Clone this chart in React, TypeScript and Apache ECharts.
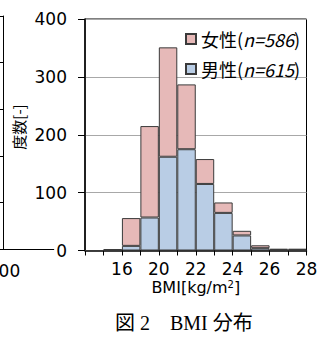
import React, { useEffect, useRef } from "react";
import * as echarts from "echarts";

// Histogram bins (lower bound of each 1-unit BMI bin)
const binStarts = ["16", "17", "18", "19", "20", "21", "22", "23", "24", "25", "26", "27"];
const maleCounts = [0, 1, 8, 57, 162, 175, 115, 65, 26, 4, 1, 1];
const femaleCounts = [0, 1, 48, 158, 189, 112, 43, 18, 8, 5, 2, 2];

const seriesNames = ["女性", "男性"];
const sampleSizes = [586, 615];

const yMin = 0;
const yMax = 400;
const yInterval = 100;

const xTickValues = [18, 20, 22, 24, 26, 28];
const xTickLabels = ["16", "20", "22", "24", "26", "28"];

const xAxisTitle = "BMI[kg/m{sup|2}]";
const yAxisTitle = "度数[-]";
const caption = "図 2　BMI 分布";
const leftChartEdgeLabel = "100";

const LABEL_FONT = "DejaVu Sans";
const CJK_FONT = "Noto Sans CJK JP";

export default function App() {
  const ref = useRef<HTMLDivElement>(null);

  useEffect(() => {
    if (!ref.current) return;
    const chart = echarts.init(ref.current, undefined, { renderer: "svg" });
    const option: any = {
      animation: false,
      backgroundColor: "#ffffff",
      title: {
        text: caption,
        left: 110,
        top: 308,
        textStyle: {
          fontSize: 20,
          fontWeight: "normal",
          fontFamily: "Liberation Serif, " + CJK_FONT,
          color: "#000",
        },
      },
      grid: [
        { left: 85, top: 19, width: 221.5, height: 231.5, show: true, borderColor: "#000", borderWidth: 1, backgroundColor: "transparent" },
        { left: -200, top: 16, width: 203, height: 233 },
        { left: 85, top: 19, width: 221.5, height: 231.5, show: false },
      ],
      legend: {
        orient: "vertical",
        left: 180,
        top: 25,
        itemWidth: 10,
        itemHeight: 10,
        itemGap: 12,
        icon: "rect",
        data: seriesNames,
        formatter: (name: string) => `${name}({i|n=${sampleSizes[seriesNames.indexOf(name)]}})`,
        textStyle: {
          fontSize: 18,
          fontFamily: CJK_FONT,
          color: "#000",
          rich: {
            i: { fontStyle: "italic", fontSize: 18, fontFamily: CJK_FONT, color: "#000" },
          },
        },
      },
      xAxis: [
        {
          type: "category",
          gridIndex: 0,
          data: binStarts,
          boundaryGap: true,
          axisLine: { show: true, lineStyle: { color: "#000", width: 1.5 } },
          axisTick: { show: true, interval: 0, length: 5, lineStyle: { color: "#000" } },
          axisLabel: { show: false },
          splitLine: { show: false },
        },
        {
          type: "value",
          gridIndex: 1,
          min: 0,
          max: 100,
          interval: 100,
          axisLine: { show: true, lineStyle: { color: "#000" } },
          axisTick: { show: false },
          splitLine: { show: false },
          axisLabel: { show: false },
        },
        {
          type: "value",
          gridIndex: 2,
          min: 16,
          max: 28,
          interval: 2,
          axisLine: { show: false },
          axisTick: { show: false },
          splitLine: { show: false },
          axisLabel: {
            margin: 10,
            fontSize: 17,
            fontFamily: LABEL_FONT,
            color: "#000",
            showMaxLabel: true,
            showMinLabel: true,
            formatter: (v: number) => {
              const i = xTickValues.indexOf(v);
              return i >= 0 ? xTickLabels[i] : "";
            },
          },
          name: xAxisTitle,
          nameLocation: "middle",
          nameGap: 29,
          nameMoveOverlap: false,
          nameTextStyle: {
            fontSize: 16,
            fontFamily: LABEL_FONT,
            color: "#000",
            rich: {
              sup: { fontSize: 10, fontFamily: LABEL_FONT, color: "#000", verticalAlign: "top", padding: [0, 0, 6, 0] },
            },
          },
        },
      ],
      yAxis: [
        {
          type: "value",
          gridIndex: 0,
          min: yMin,
          max: yMax,
          interval: yInterval,
          axisLine: { show: true, lineStyle: { color: "#000", width: 1.5 } },
          axisTick: { show: true, length: 7, lineStyle: { color: "#000" } },
          axisLabel: { margin: 18, fontSize: 17, fontFamily: LABEL_FONT, color: "#000" },
          splitLine: { show: true, lineStyle: { color: "#a8a8a8", width: 1 } },
        },
        {
          type: "value",
          gridIndex: 1,
          position: "right",
          min: 0,
          max: 5,
          interval: 1,
          axisLine: { show: true, lineStyle: { color: "#000" } },
          axisTick: { show: true, inside: true, length: 3, lineStyle: { color: "#000" } },
          axisLabel: { show: false },
          splitLine: { show: false },
        },
        {
          type: "value",
          gridIndex: 2,
          show: false,
          min: yMin,
          max: yMax,
        },
      ],
      graphic: [
        {
          type: "text",
          x: 18,
          y: 127,
          rotation: Math.PI / 2,
          style: {
            text: yAxisTitle,
            fontSize: 15,
            fontFamily: CJK_FONT,
            fill: "#000",
            align: "center",
            verticalAlign: "middle",
          },
        },
        {
          type: "text",
          x: 4,
          y: 271,
          style: {
            text: leftChartEdgeLabel,
            fontSize: 17,
            fontFamily: LABEL_FONT,
            fill: "#000",
            align: "center",
            verticalAlign: "middle",
          },
        },
      ],
      series: [
        {
          name: seriesNames[1],
          type: "bar",
          stack: "count",
          xAxisIndex: 0,
          yAxisIndex: 0,
          data: maleCounts,
          barWidth: "100%",
          barCategoryGap: "0%",
          itemStyle: { color: "#b9cde5", borderColor: "#3a3a3a", borderWidth: 1 },
        },
        {
          name: seriesNames[0],
          type: "bar",
          stack: "count",
          xAxisIndex: 0,
          yAxisIndex: 0,
          data: femaleCounts,
          barWidth: "100%",
          barCategoryGap: "0%",
          itemStyle: { color: "#e6b9b8", borderColor: "#3a3a3a", borderWidth: 1 },
        },
      ],
    };
    chart.setOption(option);
    return () => chart.dispose();
  }, []);

  return (
    <div
      ref={ref}
      style={{ position: "fixed", left: 0, top: 0, width: 329, height: 338, background: "#fff" }}
    />
  );
}
